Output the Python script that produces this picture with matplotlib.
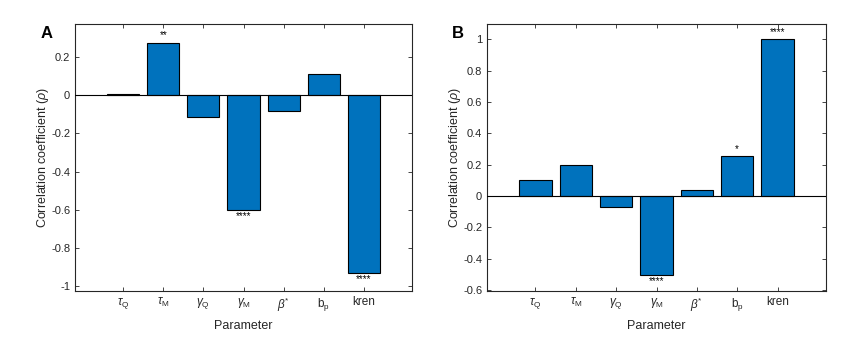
import numpy as np
import matplotlib
matplotlib.use('Agg')
import matplotlib.pyplot as plt

plt.rcParams['font.family'] = ['Liberation Sans', 'DejaVu Sans']
plt.rcParams['mathtext.fontset'] = 'custom'
plt.rcParams['mathtext.rm'] = 'Liberation Sans'
plt.rcParams['mathtext.it'] = 'Liberation Sans:italic'

# parametros y correlaciones
params = [r'$\tau_{\rm Q}$', r'$\tau_{\rm M}$', r'$\gamma_{\rm Q}$', r'$\gamma_{\rm M}$',
          r'$\beta^{*}$', r'b$_{\rm p}$', 'kren']
rho_A = [0.005, 0.272, -0.114, -0.60, -0.08, 0.114, -0.933]
rho_B = [0.10, 0.20, -0.072, -0.505, 0.038, 0.255, 1.0]
stars_A = ['', '**', '', '****', '', '', '****']
stars_B = ['', '', '', '****', '', '*', '****']

blue = '#0072BD'
axcol = '#262626'

fig = plt.figure(figsize=(8.63, 3.39), dpi=100)
axA = fig.add_axes([75 / 863, 1 - 291 / 339, 337 / 863, 267 / 339])
axB = fig.add_axes([487 / 863, 1 - 291 / 339, 339 / 863, 267 / 339])


def draw(ax, vals, stars, ylim, yticks, letter, offset):
    x = np.arange(1, len(vals) + 1)
    ax.bar(x, vals, width=0.8, color=blue, edgecolor='black', linewidth=0.8, zorder=2)
    ax.axhline(0, color='black', linewidth=0.8, zorder=3)
    for xi, v, s in zip(x, vals, stars):
        if not s:
            continue
        if v >= 0:
            ax.text(xi, v + offset, s, ha='center', va='bottom', fontsize=7)
        else:
            ax.text(xi, v - offset * 0.3, s, ha='center', va='top', fontsize=7)
    ax.set_xlim(-0.2, 8.2)
    ax.set_ylim(*ylim)
    ax.set_xticks(x)
    ax.set_xticklabels(params, fontsize=8.5)
    ax.set_yticks(yticks)
    ax.set_yticklabels([('%g' % t) for t in yticks], fontsize=8)
    ax.tick_params(direction='in', top=True, right=True, length=3, width=0.6,
                   colors=axcol, labelcolor=axcol)
    for sp in ax.spines.values():
        sp.set_color(axcol)
        sp.set_linewidth(0.8)
    ax.set_xlabel('Parameter', fontsize=9, color=axcol)
    ax.set_ylabel(r'Correlation coefficient ($\it{\rho}$)', fontsize=9, color=axcol,
                  labelpad=0)
    ax.text(-0.085, 0.965, letter, transform=ax.transAxes, fontsize=12,
            fontweight='bold', ha='center', va='center')


draw(axA, rho_A, stars_A, (-1.027, 0.374), [-1, -0.8, -0.6, -0.4, -0.2, 0, 0.2], 'A', 0.02)
draw(axB, rho_B, stars_B, (-0.605, 1.097), [-0.6, -0.4, -0.2, 0, 0.2, 0.4, 0.6, 0.8, 1], 'B', 0.015)

fig.savefig('out.png', dpi=100)
